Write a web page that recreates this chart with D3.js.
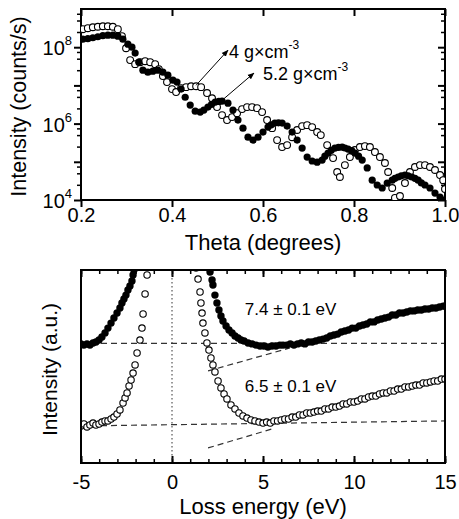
<!DOCTYPE html>
<html>
<head>
<meta charset="utf-8">
<script src="https://cdn.jsdelivr.net/npm/d3@7"></script>
<style>
  body { margin: 0; background: #fff; }
  svg { font-family: "Liberation Sans", Arial, sans-serif; }
</style>
</head>
<body>
<svg id="chart" width="459" height="519"></svg>
<script>
// ---- top panel data: X-ray reflectivity, [theta (deg), counts/s]
const thetaTicks = [0.2, 0.4, 0.6, 0.8, 1.0];
const decadeTicks = [1e4, 1e5, 1e6, 1e7, 1e8, 1e9];
const minorMantissa = [2.5, 5, 7.5];

const lowDensity = [ // 4 g/cm3, open circles
  [0.204,2.96e8],[0.215,3.14e8],[0.226,3.33e8],[0.237,3.43e8],[0.248,3.54e8],[0.259,3.54e8],[0.270,3.43e8],
  [0.281,2.96e8],[0.290,1.94e8],[0.299,9.4e7],[0.308,4.6e7],[0.319,3.6e7],[0.330,4.05e7],[0.341,4.3e7],
  [0.352,4.05e7],[0.363,3.6e7],[0.371,2.66e7],[0.380,1.75e7],[0.389,1.22e7],[0.400,8.0e6],[0.409,6.7e6],
  [0.420,8.5e6],[0.431,9.0e6],[0.442,9.5e6],[0.453,9.5e6],[0.464,9.0e6],[0.477,6.3e6],[0.488,4.6e6],
  [0.499,2.7e6],[0.510,1.67e6],[0.521,1.24e6],[0.532,1.48e6],[0.543,1.88e6],[0.554,2.4e6],[0.565,2.7e6],
  [0.576,2.7e6],[0.587,2.54e6],[0.598,2.0e6],[0.609,1.24e6],[0.620,7.6e5],[0.631,3.7e5],[0.642,2.43e5],
  [0.653,2.74e5],[0.664,4.4e5],[0.675,6.8e5],[0.686,8.6e5],[0.697,9.1e5],[0.708,8.1e5],[0.719,6.0e5],
  [0.727,5.0e5],[0.741,2.74e5],[0.754,1.25e5],[0.763,5.4e4],[0.769,4.0e4],[0.780,8.2e4],[0.791,1.33e5],
  [0.802,2.03e5],[0.813,2.43e5],[0.824,2.58e5],[0.835,2.43e5],[0.846,1.8e5],[0.857,1.33e5],[0.868,9.3e4],
  [0.875,5.4e4],[0.884,2.06e4],[0.890,1.13e4],[0.901,1.27e4],[0.912,2.78e4],[0.923,5.4e4],[0.934,7.3e4],
  [0.945,8.2e4],[0.956,8.2e4],[0.967,7.3e4],[0.978,6.1e4],[0.989,4.5e4],[0.996,3.3e4],[1.000,1.94e4]
];

const highDensity = [ // 5.2 g/cm3, filled circles
  [0.204,1.62e8],[0.215,1.67e8],[0.226,1.77e8],[0.237,1.88e8],[0.248,2.0e8],[0.259,2.06e8],[0.270,2.06e8],
  [0.281,1.94e8],[0.292,1.62e8],[0.303,1.2e8],[0.312,1.0e8],[0.319,7.0e7],[0.327,4.05e7],[0.336,2.5e7],
  [0.347,2.22e7],[0.358,2.36e7],[0.369,2.5e7],[0.380,2.22e7],[0.391,1.85e7],[0.402,1.37e7],[0.411,1.22e7],
  [0.420,8.0e6],[0.429,4.9e6],[0.440,3.05e6],[0.451,2.12e6],[0.462,2.0e6],[0.470,2.26e6],[0.479,2.7e6],
  [0.487,3.2e6],[0.495,3.65e6],[0.503,3.8e6],[0.510,3.87e6],[0.523,3.43e6],[0.534,2.26e6],[0.545,1.24e6],
  [0.556,7.6e5],[0.567,4.4e5],[0.578,3.7e5],[0.589,4.4e5],[0.600,6.0e5],[0.611,8.1e5],[0.618,9.3e5],
  [0.626,1.03e6],[0.634,1.05e6],[0.642,1.03e6],[0.653,8.6e5],[0.664,6.0e5],[0.675,3.7e5],[0.686,2.29e5],
  [0.697,1.33e5],[0.708,1.05e5],[0.719,9.8e4],[0.730,1.11e5],[0.736,1.4e5],[0.743,1.69e5],[0.750,2.0e5],
  [0.758,2.29e5],[0.766,2.4e5],[0.774,2.43e5],[0.780,2.3e5],[0.787,2.15e5],[0.795,1.95e5],[0.802,1.69e5],
  [0.810,1.4e5],[0.818,1.11e5],[0.829,6.9e4],[0.840,3.3e4],[0.851,2.47e4],[0.862,2.06e4],[0.873,2.78e4],
  [0.884,3.3e4],[0.890,3.7e4],[0.897,4.0e4],[0.904,4.3e4],[0.912,4.5e4],[0.919,4.3e4],[0.927,4.0e4],
  [0.934,3.7e4],[0.941,3.3e4],[0.948,2.8e4],[0.956,2.47e4],[0.967,2.06e4],[0.978,1.52e4],[0.989,1.2e4],
  [0.998,1.0e4]
];

// ---- bottom panel data: electron energy loss, [eV, a.u.]
const lossTicks = [-5, 0, 5, 10, 15];
const lossMinor = d3.range(-5, 15.5, 1);

const openLoss = [
  [-5.00,0.192],[-4.84,0.202],[-4.67,0.187],[-4.51,0.197],[-4.34,0.207],[-4.18,0.197],[-4.01,0.202],
  [-3.85,0.212],[-3.68,0.218],[-3.52,0.218],[-3.35,0.228],[-3.19,0.238],[-3.02,0.254],[-2.86,0.275],
  [-2.69,0.311],[-2.58,0.337],[-2.47,0.363],[-2.36,0.399],[-2.25,0.430],[-2.14,0.466],[-2.03,0.508],
  [-1.92,0.570],[-1.76,0.637],[-1.65,0.699],[-1.59,0.772],[-1.48,0.876],[-1.37,0.974],
  [1.32,1.010],[1.43,0.953],[1.54,0.886],[1.59,0.829],[1.65,0.777],[1.70,0.725],[1.81,0.674],[1.92,0.622],
  [2.03,0.585],[2.14,0.544],[2.25,0.508],[2.36,0.472],[2.53,0.425],[2.69,0.389],[2.86,0.358],[3.02,0.332],
  [3.24,0.301],[3.46,0.280],[3.68,0.259],[3.90,0.244],[4.12,0.233],[4.34,0.223],[4.56,0.218],[4.78,0.212],
  [5.00,0.207],[5.2,0.212],[5.4,0.207],[5.6,0.218],[5.8,0.218],[6.0,0.223],[6.2,0.228],[6.4,0.228],
  [6.6,0.238],[6.8,0.238],[7.0,0.249],[7.2,0.249],[7.4,0.259],[7.6,0.259],[7.8,0.264],[8.0,0.269],
  [8.2,0.269],[8.4,0.280],[8.6,0.280],[8.8,0.290],[9.0,0.290],[9.2,0.295],[9.4,0.306],[9.6,0.306],
  [9.8,0.316],[10.0,0.316],[10.2,0.321],[10.4,0.332],[10.6,0.332],[10.8,0.342],[11.0,0.347],[11.2,0.347],
  [11.4,0.358],[11.6,0.363],[11.8,0.363],[12.0,0.373],[12.2,0.373],[12.4,0.383],[12.6,0.383],[12.8,0.394],
  [13.0,0.394],[13.2,0.399],[13.4,0.404],[13.6,0.404],[13.8,0.415],[14.0,0.415],[14.2,0.420],[14.4,0.425],
  [14.6,0.425],[14.8,0.435],[15.0,0.435]
];

const filledLoss = [
  [-5.00,0.617],[-4.84,0.611],[-4.67,0.617],[-4.51,0.611],[-4.34,0.622],[-4.18,0.627],[-4.01,0.637],
  [-3.85,0.653],[-3.68,0.674],[-3.52,0.699],[-3.35,0.725],[-3.19,0.751],[-3.02,0.777],[-2.86,0.803],
  [-2.75,0.829],[-2.64,0.850],[-2.53,0.870],[-2.42,0.896],[-2.31,0.917],[-2.20,0.943],[-2.14,0.974],
  [-2.09,1.000],[-2.03,1.040],
  [1.98,1.021],[2.09,0.990],[2.20,0.948],[2.25,0.922],[2.36,0.870],[2.47,0.829],[2.58,0.793],[2.69,0.762],
  [2.80,0.736],[2.97,0.710],[3.13,0.689],[3.30,0.674],[3.46,0.658],[3.63,0.648],[3.79,0.637],[3.96,0.632],
  [4.18,0.622],[4.40,0.617],[4.62,0.611],[4.84,0.606],[5.05,0.606],[5.27,0.601],[5.49,0.606],[5.71,0.606],
  [5.93,0.611],[6.1,0.611],[6.3,0.611],[6.5,0.617],[6.7,0.611],[6.9,0.617],[7.1,0.622],[7.3,0.617],
  [7.5,0.627],[7.7,0.627],[7.9,0.632],[8.1,0.637],[8.3,0.642],[8.5,0.648],[8.7,0.658],[8.9,0.663],
  [9.1,0.668],[9.3,0.679],[9.5,0.684],[9.7,0.689],[9.9,0.699],[10.1,0.699],[10.3,0.710],[10.5,0.715],
  [10.7,0.720],[10.9,0.731],[11.1,0.731],[11.3,0.741],[11.5,0.746],[11.7,0.751],[11.9,0.756],[12.1,0.767],
  [12.3,0.767],[12.5,0.777],[12.7,0.777],[12.9,0.782],[13.1,0.788],[13.3,0.788],[13.5,0.793],[13.7,0.793],
  [13.9,0.798],[14.1,0.798],[14.3,0.803],[14.5,0.803],[14.7,0.808],[14.9,0.813],[15.0,0.813]
];

// linear fits and backgrounds (dashed)
const fitLines = [
  [[-5, 0.620], [15, 0.620]],
  [[-5, 0.192], [15, 0.218]],
  [[1.98, 0.477], [6.48, 0.596]],
  [[1.98, 0.078], [5.66, 0.181]]
];

const svg = d3.select('#chart');

// arrowhead
svg.append('defs').append('marker')
  .attr('id', 'arrow')
  .attr('viewBox', '0 0 10 10')
  .attr('refX', 9).attr('refY', 5)
  .attr('markerWidth', 7).attr('markerHeight', 7)
  .attr('markerUnits', 'userSpaceOnUse')
  .attr('orient', 'auto')
  .append('path').attr('d', 'M0,1 L10,5 L0,9 Z').attr('fill', '#000');

// ================= top panel =================
const boxT = { left: 81, right: 445, top: 9, bottom: 200 };
const xT = d3.scaleLinear().domain([0.2, 1.0]).range([boxT.left, boxT.right]);
const yT = d3.scaleLog().domain([1e4, 1e9]).range([boxT.bottom, boxT.top]);

svg.append('clipPath').attr('id', 'clipTop').append('rect')
  .attr('x', boxT.left).attr('y', boxT.top)
  .attr('width', boxT.right - boxT.left).attr('height', boxT.bottom - boxT.top);

const minorLog = [];
decadeTicks.slice(0, -1).forEach(d => minorMantissa.forEach(m => minorLog.push(d * m)));

// bottom x axis (outward ticks)
svg.append('g').attr('class', 'axis')
  .attr('transform', `translate(0,${boxT.bottom})`)
  .call(d3.axisBottom(xT).tickValues(thetaTicks).tickSize(7).tickPadding(1).tickFormat(d3.format('.1f')));
// top mirror (inward)
svg.append('g').attr('class', 'axis')
  .attr('transform', `translate(0,${boxT.top})`)
  .call(d3.axisTop(xT).tickValues(thetaTicks).tickSize(-7).tickFormat(''));
// left y axis
svg.append('g').attr('class', 'axis')
  .attr('transform', `translate(${boxT.left},0)`)
  .call(d3.axisLeft(yT).tickValues(decadeTicks.slice(0, -1)).tickSize(7).tickFormat(''));
svg.append('g').attr('class', 'axis minor')
  .attr('transform', `translate(${boxT.left},0)`)
  .call(d3.axisLeft(yT).tickValues(minorLog).tickSize(4).tickFormat(''));
// right mirror
svg.append('g').attr('class', 'axis')
  .attr('transform', `translate(${boxT.right},0)`)
  .call(d3.axisRight(yT).tickValues(decadeTicks.slice(0, -1)).tickSize(-7).tickFormat(''));
svg.append('g').attr('class', 'axis minor')
  .attr('transform', `translate(${boxT.right},0)`)
  .call(d3.axisRight(yT).tickValues(minorLog).tickSize(-4).tickFormat(''));

// power-of-ten labels, only every second decade as in the figure
[1e4, 1e6, 1e8].forEach(v => {
  const t = svg.append('text')
    .attr('x', boxT.left - 9).attr('y', yT(v) + 8)
    .attr('text-anchor', 'end').attr('font-size', 20);
  t.append('tspan').text('10');
  t.append('tspan').attr('font-size', 13).attr('dy', -10).text(Math.round(Math.log10(v)));
});

svg.append('rect')
  .attr('x', boxT.left).attr('y', boxT.top)
  .attr('width', boxT.right - boxT.left).attr('height', boxT.bottom - boxT.top)
  .attr('fill', 'none').attr('stroke', '#000').attr('stroke-width', 2);

const plotT = svg.append('g').attr('clip-path', 'url(#clipTop)');
plotT.selectAll('.lowd').data(lowDensity).enter().append('circle')
  .attr('class', 'lowd')
  .attr('cx', d => xT(d[0])).attr('cy', d => yT(d[1])).attr('r', 3.4)
  .attr('fill', '#fff').attr('stroke', '#000').attr('stroke-width', 1.1);
plotT.selectAll('.highd').data(highDensity).enter().append('circle')
  .attr('class', 'highd')
  .attr('cx', d => xT(d[0])).attr('cy', d => yT(d[1])).attr('r', 3.6)
  .attr('fill', '#000');

// annotations
svg.append('line')
  .attr('x1', xT(0.453)).attr('y1', yT(9.5e6) - 1)
  .attr('x2', xT(0.523)).attr('y2', yT(1.0e8) + 3)
  .attr('stroke', '#000').attr('stroke-width', 1).attr('marker-end', 'url(#arrow)');
svg.append('line')
  .attr('x1', xT(0.513)).attr('y1', yT(3.87e6) - 2)
  .attr('x2', xT(0.58)).attr('y2', yT(2.1e7))
  .attr('stroke', '#000').attr('stroke-width', 1).attr('marker-end', 'url(#arrow)');

function densityLabel(x, y, value) {
  const t = svg.append('text').attr('x', x).attr('y', y).attr('font-size', 18);
  t.append('tspan').text(value + ' g\u00d7cm');
  t.append('tspan').attr('font-size', 12).attr('dy', -9).text('-3');
}
densityLabel(xT(0.525), yT(6.0e7) + 2, '4');
densityLabel(xT(0.60), yT(1.7e7) + 3, '5.2');

svg.append('text')
  .attr('transform', `translate(26,${(boxT.top + boxT.bottom) / 2 + 2}) rotate(-90)`)
  .attr('text-anchor', 'middle').attr('font-size', 21.5)
  .text('Intensity (counts/s)');
svg.append('text')
  .attr('x', (boxT.left + boxT.right) / 2).attr('y', 250)
  .attr('text-anchor', 'middle').attr('font-size', 22)
  .text('Theta (degrees)');

// ================= bottom panel =================
const boxB = { left: 81, right: 445, top: 270, bottom: 463 };
const xB = d3.scaleLinear().domain([-5, 15]).range([boxB.left, boxB.right]);
const yB = d3.scaleLinear().domain([0, 1]).range([boxB.bottom, boxB.top]);

svg.append('clipPath').attr('id', 'clipBot').append('rect')
  .attr('x', boxB.left).attr('y', boxB.top)
  .attr('width', boxB.right - boxB.left).attr('height', boxB.bottom - boxB.top);

svg.append('g').attr('class', 'axis')
  .attr('transform', `translate(0,${boxB.bottom})`)
  .call(d3.axisBottom(xB).tickValues(lossTicks).tickSize(-7).tickPadding(12).tickFormat(d => String(d)));
svg.append('g').attr('class', 'axis minor')
  .attr('transform', `translate(0,${boxB.bottom})`)
  .call(d3.axisBottom(xB).tickValues(lossMinor).tickSize(-4).tickFormat(''));
svg.append('g').attr('class', 'axis')
  .attr('transform', `translate(0,${boxB.top})`)
  .call(d3.axisTop(xB).tickValues(lossTicks).tickSize(-7).tickFormat(''));
svg.append('g').attr('class', 'axis minor')
  .attr('transform', `translate(0,${boxB.top})`)
  .call(d3.axisTop(xB).tickValues(lossMinor).tickSize(-4).tickFormat(''));

const plotB = svg.append('g').attr('clip-path', 'url(#clipBot)');

plotB.append('line')
  .attr('x1', xB(0)).attr('x2', xB(0))
  .attr('y1', boxB.top).attr('y2', boxB.bottom)
  .attr('stroke', '#333').attr('stroke-width', 1).attr('stroke-dasharray', '1.5,2.5');

const line = d3.line().x(d => xB(d[0])).y(d => yB(d[1]));
plotB.selectAll('.fit').data(fitLines).enter().append('path')
  .attr('class', 'fit')
  .attr('d', line)
  .attr('fill', 'none').attr('stroke', '#333').attr('stroke-width', 1.2)
  .attr('stroke-dasharray', '6,4');

plotB.selectAll('.openl').data(openLoss).enter().append('circle')
  .attr('class', 'openl')
  .attr('cx', d => xB(d[0])).attr('cy', d => yB(d[1])).attr('r', 3.2)
  .attr('fill', '#fff').attr('stroke', '#000').attr('stroke-width', 1.1);
plotB.selectAll('.filledl').data(filledLoss).enter().append('circle')
  .attr('class', 'filledl')
  .attr('cx', d => xB(d[0])).attr('cy', d => yB(d[1])).attr('r', 3.7)
  .attr('fill', '#000');

svg.append('rect')
  .attr('x', boxB.left).attr('y', boxB.top)
  .attr('width', boxB.right - boxB.left).attr('height', boxB.bottom - boxB.top)
  .attr('fill', 'none').attr('stroke', '#000').attr('stroke-width', 2);

svg.append('text').attr('x', xB(4.0)).attr('y', yB(0.766)).attr('font-size', 17)
  .text('7.4 \u00b1 0.1 eV');
svg.append('text').attr('x', xB(4.0)).attr('y', yB(0.368)).attr('font-size', 17)
  .text('6.5 \u00b1 0.1 eV');

svg.append('text')
  .attr('transform', `translate(57,${(boxB.top + boxB.bottom) / 2 + 3}) rotate(-90)`)
  .attr('text-anchor', 'middle').attr('font-size', 21)
  .text('Intensity (a.u.)');
svg.append('text')
  .attr('x', (boxB.left + boxB.right) / 2).attr('y', 514)
  .attr('text-anchor', 'middle').attr('font-size', 22)
  .text('Loss energy (eV)');

// shared axis styling
svg.selectAll('.axis .domain').remove();
svg.selectAll('.axis line').attr('stroke', '#000').attr('stroke-width', 2);
svg.selectAll('.axis.minor line').attr('stroke-width', 1.5);
svg.selectAll('.axis text')
  .attr('font-size', 20).attr('fill', '#000')
  .attr('font-family', '"Liberation Sans", Arial, sans-serif');
</script>
</body>
</html>
